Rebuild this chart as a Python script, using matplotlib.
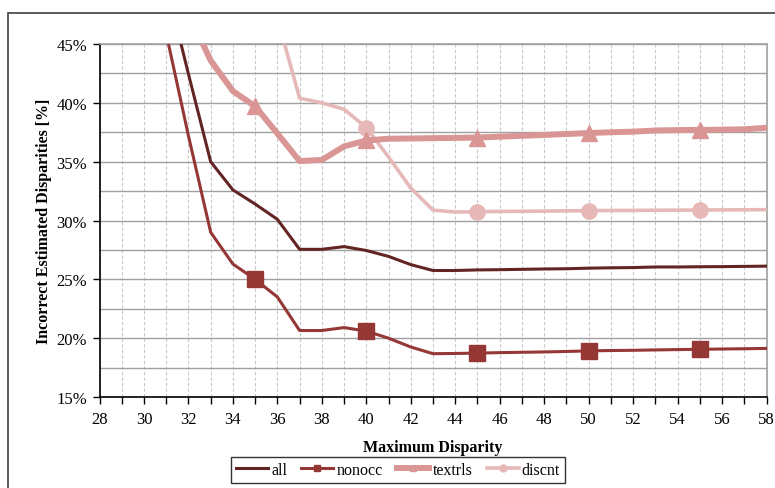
import numpy as np
import matplotlib
matplotlib.use("Agg")
import matplotlib.pyplot as plt
from matplotlib.lines import Line2D
from matplotlib.patches import Rectangle
from matplotlib.ticker import MultipleLocator, FuncFormatter

nan = np.nan
x = list(range(31, 59))
all_vals = [50.1, 42.45, 35.0, 32.6, 31.4, 30.1, 27.55, 27.55, 27.78, 27.45, 26.95, 26.25,
            25.75, 25.75, 25.8, 25.82, 25.85, 25.88, 25.9, 25.95, 25.98, 26.0, 26.05, 26.05,
            26.07, 26.08, 26.1, 26.12]
nonocc = [45.9, 37.2, 29.0, 26.3, 25.0, 23.5, 20.65, 20.65, 20.9, 20.6, 20.0, 19.25,
          18.68, 18.7, 18.73, 18.77, 18.8, 18.83, 18.87, 18.92, 18.95, 18.97, 19.0, 19.03,
          19.05, 19.08, 19.1, 19.13]
textrls = [nan, 47.6, 43.6, 41.0, 39.7, 37.4, 35.05, 35.15, 36.3, 36.8, 36.95, 36.97,
           37.0, 37.02, 37.05, 37.12, 37.2, 37.27, 37.35, 37.43, 37.5, 37.55, 37.65, 37.68,
           37.7, 37.72, 37.75, 37.88]
discnt = [nan, nan, nan, nan, nan, 47.2, 40.4, 40.0, 39.45, 37.9, 35.4, 32.75,
          30.88, 30.72, 30.75, 30.77, 30.78, 30.8, 30.82, 30.84, 30.85, 30.86, 30.87, 30.88,
          30.89, 30.9, 30.91, 30.92]
marker_x = [35, 40, 45, 50, 55]

c_all = "#632523"
c_non = "#953735"
c_tex = "#D99694"
c_dis = "#E6B9B8"

serif = ["Liberation Serif", "DejaVu Serif"]
plt.rcParams["font.family"] = serif

fig = plt.figure(figsize=(7.75, 4.89), dpi=100)
ax = fig.add_axes([99.5 / 775, 1 - 398 / 489, (766.5 - 99.5) / 775, (398 - 45) / 489])

idx = [x.index(v) for v in marker_x]
ax.plot(x, discnt, color=c_dis, lw=2.6, marker="o", ms=11, markevery=[i for i in idx if not np.isnan(discnt[i])], zorder=3)
ax.plot(x, textrls, color=c_tex, lw=4.3, marker="^", ms=12, markevery=idx, zorder=4)
ax.plot(x, all_vals, color=c_all, lw=2.2, zorder=5)
ax.plot(x, nonocc, color=c_non, lw=2.2, marker="s", ms=12, markevery=idx, zorder=6)

ax.set_xlim(28, 58)
ax.set_ylim(15, 45)
ax.xaxis.set_major_locator(MultipleLocator(2))
ax.xaxis.set_minor_locator(MultipleLocator(1))
ax.yaxis.set_major_locator(MultipleLocator(5))
ax.yaxis.set_minor_locator(MultipleLocator(2.5))
ax.yaxis.set_major_formatter(FuncFormatter(lambda v, p: f"{v:.0f}%"))

ax.grid(which="both", axis="y", color="#A0A0A0", lw=1.0, ls="-", zorder=0)
ax.grid(which="both", axis="x", color="#C8C8C8", lw=0.8, ls=(0, (3, 2)), zorder=0)
ax.set_axisbelow(True)

ax.tick_params(axis="x", which="both", direction="out", length=5, width=1, labelsize=12, pad=5)
ax.tick_params(axis="y", which="major", direction="out", length=5, width=1, labelsize=12, pad=4)
ax.tick_params(axis="y", which="minor", length=0)

for s in ["left", "bottom"]:
    ax.spines[s].set_color("black")
    ax.spines[s].set_linewidth(1.2)
for s in ["right", "top"]:
    ax.spines[s].set_color("#A0A0A0")
    ax.spines[s].set_linewidth(1.2)

ax.set_xlabel("Maximum Disparity", fontsize=11.5, fontweight="bold", labelpad=9)
ax.set_ylabel("Incorrect Estimated Disparities [%]", fontsize=11.5, fontweight="bold", labelpad=3)

handles = [
    Line2D([], [], color=c_all, lw=2.2),
    Line2D([], [], color=c_non, lw=2.2, marker="s", ms=5),
    Line2D([], [], color=c_tex, lw=4.3, marker="^", ms=5),
    Line2D([], [], color=c_dis, lw=2.6, marker="o", ms=5),
]
leg = fig.legend(handles, ["all", "nonocc", "textrls", "discnt"], loc="center",
                 bbox_to_anchor=(398 / 775, 1 - 471 / 489), ncol=4, fontsize=11.5,
                 frameon=True, fancybox=False, handlelength=2.0, handletextpad=0.2,
                 columnspacing=0.9, borderpad=0.3, borderaxespad=0, edgecolor="black")
leg.get_frame().set_linewidth(1.0)

fig.patches.append(Rectangle((8 / 775, -0.1), 1.2, 1 - 14 / 489 + 0.1, transform=fig.transFigure,
                             fill=False, edgecolor="#404040", lw=1.2, clip_on=False))

fig.savefig("out.png", dpi=100)
